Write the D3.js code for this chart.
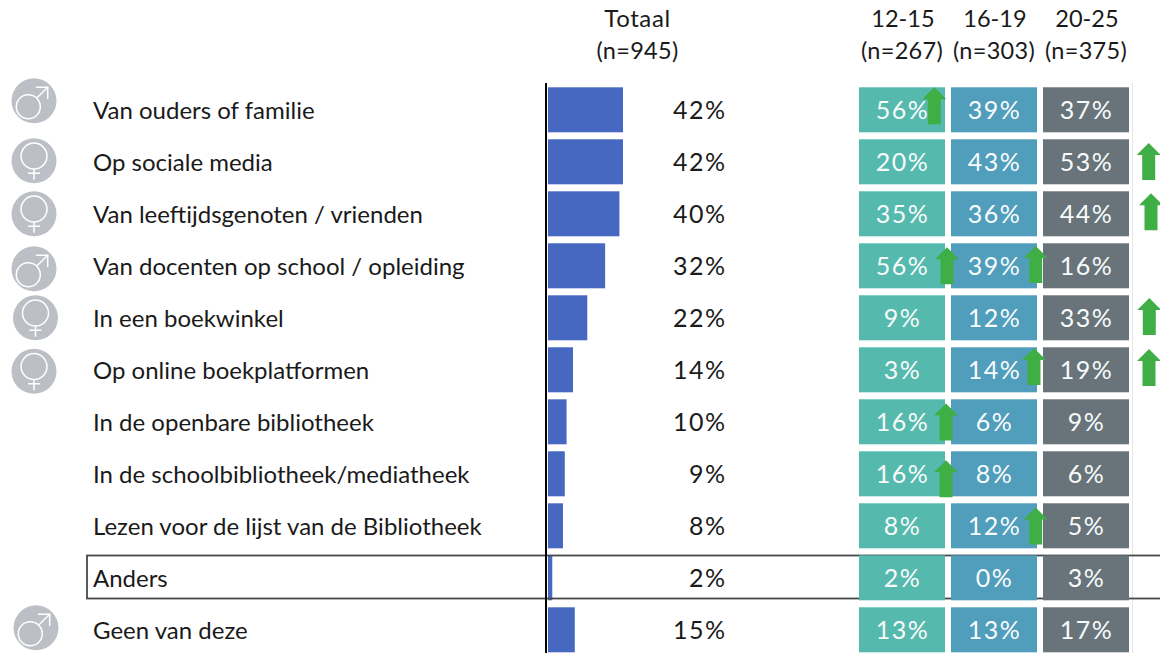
<!DOCTYPE html>
<html><head><meta charset="utf-8">
<script src="https://cdn.jsdelivr.net/npm/d3@7"></script>
<style>html,body{margin:0;padding:0;background:#fff}svg{display:block}text{font-family:Lato,sans-serif}</style>
</head><body><svg id="c" width="1160" height="653"></svg>
<script>
const categories=["Van ouders of familie","Op sociale media","Van leeftijdsgenoten / vrienden","Van docenten op school / opleiding","In een boekwinkel","Op online boekplatformen","In de openbare bibliotheek","In de schoolbibliotheek/mediatheek","Lezen voor de lijst van de Bibliotheek","Anders","Geen van deze"];
const totaal=[42,42,40,32,22,14,10.4,9.4,8.4,2.4,15];
const age1215=[56,20,35,56,9,3,16,16,8,2,13];
const age1619=[39,43,36,39,12,14,6,8,12,0,13];
const age2025=[37,53,44,16,33,19,9,6,5,3,17];
const groups=["12-15","16-19","20-25"];
const groupN=["(n=267)","(n=303)","(n=375)"];
const genders=["m","f","f","m","f","f",null,null,null,null,"m"];
const arrowRows=[0,1,2,3,3,4,5,5,6,7,8];
const arrowCols=[0,2,2,0,1,2,1,2,0,0,1];

// hand placement of the annotations, as in the reference
const groupColors=["#55b9ad","#519dbc","#68737a"];
const iconDx=[0,0,0,0,1.5,0,0,0,0,0,2];
const iconDy=[-9,-1,0,3,0,1.5,0,0,0,0,-2];
const arrowDx=[-10.7,19.7,22,2,-1.3,20.3,-3,20,1,1,-1.3];
const arrowDy=[0,3.7,2,4,2.7,2.7,0.7,1.7,4.3,9,4.3];

const svg=d3.select("#c");
const y=d3.scaleBand().domain(d3.range(categories.length)).range([83.8,655.8]).paddingInner(7/52).paddingOuter(3.5/52);
const x=d3.scaleLinear().domain([0,42]).range([548,623]);
const cx=d3.scaleBand().domain(d3.range(3)).range([859,1129]).paddingInner(6/92);
const ink="#1a1a1a";
const mid=i=>y(i)+y.bandwidth()/2;
const style=e=>e.attr("fill","none").attr("stroke","#fff").attr("stroke-width",1.5);

// faint separator
svg.append("line").attr("x1",1132.5).attr("x2",1132.5).attr("y1",83).attr("y2",653).attr("stroke","#e3e6ea");

// icons
const icons=svg.append("g");
genders.forEach((g,i)=>{
  if(!g)return;
  const p=icons.append("g").attr("transform",`translate(${34+iconDx[i]},${mid(i)+iconDy[i]})`);
  p.append("circle").attr("r",22.5).attr("fill","#bcc0c6");
  if(g==="f"){
    p.append("circle").attr("cy",-4.7).attr("r",13).call(style);
    p.append("path").attr("d","M0,8.3V19M-6,12.5H6").call(style);
  }else{
    p.append("circle").attr("cx",-5.7).attr("cy",6).attr("r",12).call(style);
    p.append("path").attr("d","M3,-3L13.7,-13.5M2,-13.5H13.7V-1.8").call(style);
  }
});

// labels
svg.append("g").selectAll("text").data(categories).join("text")
  .attr("x",93).attr("y",(d,i)=>mid(i)+9).attr("font-size",24).attr("fill",ink).text(d=>d);

// bars
svg.append("g").selectAll("rect").data(totaal).join("rect")
  .attr("x",x(0)).attr("y",(d,i)=>y(i)).attr("width",d=>x(d)-x(0)).attr("height",y.bandwidth()).attr("fill","#4768c0");

// Anders frame
svg.append("rect").attr("x",87).attr("y",y(9)+0.2).attr("width",1080).attr("height",43)
  .attr("fill","none").attr("stroke","#44494d").attr("stroke-width",1.8);

svg.append("line").attr("x1",546).attr("x2",546).attr("y1",83).attr("y2",653).attr("stroke","#000").attr("stroke-width",2);
svg.append("g").selectAll("text").data(totaal).join("text")
  .attr("x",726.5).attr("y",(d,i)=>mid(i)+9).attr("text-anchor","end").attr("font-size",25).attr("letter-spacing",1.5).attr("fill",ink).text(d=>Math.round(d)+"%");

// header
const hdr=svg.append("g").attr("fill",ink).attr("text-anchor","middle");
hdr.append("text").attr("x",637.5).attr("y",27).attr("font-size",24).attr("letter-spacing",0.6).text("Totaal");
hdr.append("text").attr("x",637.5).attr("y",59).attr("font-size",23.5).attr("letter-spacing",0.3).text("(n=945)");
groups.forEach((g,j)=>{
  const c=cx(j)+cx.bandwidth()/2;
  hdr.append("text").attr("x",c+1).attr("y",27).attr("font-size",23.5).text(g);
  hdr.append("text").attr("x",c).attr("y",59).attr("font-size",23.5).attr("letter-spacing",0.3).text(groupN[j]);
});

// heat cells
[age1215,age1619,age2025].forEach((vals,j)=>{
  const g=svg.append("g");
  g.selectAll("rect").data(vals).join("rect")
    .attr("x",cx(j)).attr("y",(d,i)=>y(i)).attr("width",cx.bandwidth()).attr("height",y.bandwidth()).attr("fill",groupColors[j]);
  g.selectAll("text").data(vals).join("text")
    .attr("x",cx(j)+cx.bandwidth()/2+0.5).attr("y",(d,i)=>mid(i)+9).attr("text-anchor","middle")
    .attr("font-size",25).attr("letter-spacing",1.5).attr("fill","#f7fbfb").text(d=>d+"%");
});

// arrows
svg.append("g").selectAll("path").data(arrowRows).join("path")
  .attr("transform",(r,k)=>`translate(${cx(arrowCols[k])+cx.bandwidth()+arrowDx[k]},${y(r)+arrowDy[k]})`)
  .attr("d","M0,0L12,12H6.5V37H-6.5V12H-12Z").attr("fill","#3fae44");
</script></body></html>
